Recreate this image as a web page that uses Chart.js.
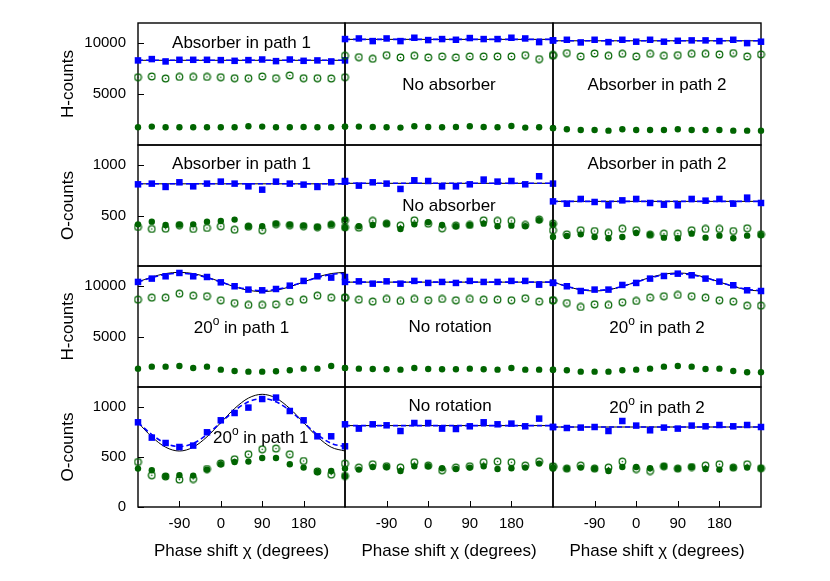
<!DOCTYPE html>
<html>
<head>
<meta charset="utf-8">
<script src="https://cdn.jsdelivr.net/npm/chart.js@4.4.1/dist/chart.umd.min.js"></script>
<style>
  html, body { margin: 0; padding: 0; background: #fff; }
  #wrap { position: relative; width: 830px; height: 581px; }
  #wrap canvas { position: absolute; left: 0; top: 0; }
</style>
</head>
<body>
<div id="wrap"></div>
<script>
// phase shift chi (degrees) of every measured point
const phase = [-180, -150, -120, -90, -60, -30, 0, 30, 60, 90, 120, 150, 180, 210, 240, 270];
const xTicks = [-90, 0, 90, 180];
const hTicks = [5000, 10000];
const oTicks = [500, 1000];
const oTicksBottom = [0, 500, 1000];

// row 1: H-counts with absorbers
const r1c1Sq = [8320, 8450, 8220, 8380, 8380, 8380, 8350, 8280, 8350, 8410, 8250, 8410, 8280, 8320, 8220, 8320];
const r1c1Open = [6670, 6740, 6540, 6700, 6700, 6700, 6670, 6570, 6570, 6740, 6570, 6840, 6570, 6570, 6540, 6670];
const r1c1Dot = [1740, 1810, 1740, 1740, 1740, 1740, 1740, 1740, 1840, 1810, 1740, 1740, 1770, 1740, 1740, 1810];
const r1c1Level = 8330;

const r1c2Sq = [10420, 10480, 10220, 10480, 10220, 10550, 10320, 10420, 10350, 10520, 10420, 10420, 10550, 10480, 10120, 10290];
const r1c2Open = [8780, 8640, 8480, 8840, 8610, 8780, 8610, 8710, 8610, 8710, 8710, 8710, 8710, 8840, 8450, 8780];
const r1c2Dot = [1810, 1810, 1775, 1740, 1710, 1840, 1775, 1740, 1775, 1840, 1775, 1740, 1870, 1710, 1740, 1680];
const r1c2Level = 10390;

const r1c3Sq = [10290, 10350, 10090, 10350, 10120, 10350, 10160, 10350, 10160, 10250, 10290, 10290, 10220, 10350, 10020, 10160];
const r1c3Open = [8870, 9040, 8710, 9000, 8780, 8970, 8710, 8970, 8780, 8840, 8970, 8970, 8910, 9040, 8710, 8910];
const r1c3Dot = [1640, 1545, 1480, 1480, 1410, 1545, 1480, 1480, 1480, 1545, 1480, 1480, 1480, 1410, 1410, 1410];
const r1c3Level = 10250;

// row 2: O-counts with absorbers
const r2c1Sq = [810, 817, 784, 830, 790, 817, 837, 817, 790, 757, 837, 817, 807, 784, 830, 843];
const r2c1Open = [387, 367, 370, 405, 367, 377, 394, 360, 390, 354, 415, 405, 395, 385, 408, 384];
const r2c1Dot = [413, 440, 407, 410, 413, 440, 447, 460, 394, 394, 420, 410, 400, 387, 413, 460];
const r2c1Level = 815;

const r2c2Sq = [837, 797, 830, 817, 764, 850, 843, 790, 790, 810, 857, 837, 843, 810, 890, 817];
const r2c2Open = [453, 380, 447, 420, 400, 453, 420, 374, 400, 407, 453, 447, 447, 407, 460, 420];
const r2c2Dot = [380, 394, 407, 420, 367, 413, 434, 407, 394, 407, 420, 394, 400, 394, 453, 413];
const r2c2Level = 820;

const r2c3Sq = [641, 618, 665, 635, 602, 651, 665, 625, 608, 602, 665, 648, 665, 618, 678, 625];
const r2c3Open = [354, 314, 354, 347, 328, 370, 354, 311, 321, 321, 354, 367, 367, 347, 374, 314];
const r2c3Dot = [288, 298, 314, 288, 275, 288, 328, 311, 281, 275, 321, 281, 301, 275, 301, 308];
const r2c3Level = 641;

// row 3: H-counts with 20 degree rotation
const r3c1Sq = [10420, 10750, 10980, 11310, 10980, 10910, 10380, 9990, 9660, 9590, 9720, 10050, 10520, 10980, 10850, 10910];
const r3c1Theory = [10420, 10900, 11250, 11370, 11250, 10900, 10420, 9940, 9590, 9460, 9590, 9940, 10420, 10900, 11250, 11370];
const r3c1Fit = [10420, 10850, 11170, 11280, 11170, 10850, 10420, 9990, 9670, 9560, 9670, 9990, 10420, 10850, 11170, 11280];
const r3c1Open = [8660, 8860, 8860, 9260, 9060, 9000, 8600, 8330, 8140, 8140, 8200, 8470, 8660, 9060, 8860, 8860];
const r3c1Dot = [1820, 2020, 2020, 2090, 1890, 2020, 1720, 1590, 1520, 1520, 1560, 1660, 1820, 1820, 2090, 1890];

const r3c2Sq = [10420, 10480, 10250, 10480, 10250, 10520, 10320, 10420, 10320, 10520, 10420, 10420, 10520, 10520, 10150, 10350];
const r3c2Open = [8860, 8660, 8470, 8730, 8530, 8730, 8600, 8730, 8600, 8730, 8660, 8660, 8600, 8800, 8470, 8600];
const r3c2Dot = [1890, 1820, 1790, 1760, 1720, 1890, 1790, 1760, 1760, 1820, 1760, 1720, 1890, 1720, 1720, 1720];
const r3c2Level = 10400;

const r3c3Sq = [10320, 9990, 9520, 9660, 9660, 10120, 10320, 10750, 11010, 11240, 11080, 10750, 10450, 10090, 9590, 9520];
const r3c3Theory = [10420, 9970, 9640, 9520, 9640, 9970, 10420, 10860, 11190, 11310, 11190, 10860, 10420, 9970, 9640, 9520];
const r3c3Fit = [10400, 9990, 9680, 9570, 9680, 9990, 10400, 10810, 11120, 11230, 11120, 10810, 10400, 9990, 9680, 9570];
const r3c3Open = [8600, 8330, 7940, 8200, 8140, 8400, 8530, 8860, 9000, 9130, 9000, 8860, 8600, 8470, 8070, 8070];
const r3c3Dot = [1720, 1660, 1520, 1520, 1520, 1660, 1720, 1820, 2020, 2090, 2020, 1790, 1820, 1590, 1460, 1460];

// row 4: O-counts with 20 degree rotation
const r4c1Sq = [847, 694, 640, 600, 614, 747, 867, 940, 994, 1080, 1094, 960, 867, 707, 707, 607];
const r4c1Theory = [844, 702, 598, 560, 598, 702, 844, 985, 1089, 1127, 1089, 985, 844, 702, 598, 560];
const r4c1Fit = [844, 724, 636, 604, 636, 724, 844, 964, 1052, 1084, 1052, 964, 844, 724, 636, 604];
const r4c1Open = [450, 317, 305, 274, 280, 380, 435, 477, 527, 577, 584, 527, 460, 355, 324, 310];
const r4c1Dot = [384, 367, 307, 317, 314, 374, 427, 450, 454, 490, 490, 427, 394, 350, 360, 307];

const r4c2Sq = [827, 784, 827, 817, 760, 840, 840, 784, 780, 807, 847, 827, 834, 807, 884, 800];
const r4c2Open = [434, 394, 427, 407, 394, 447, 414, 367, 394, 407, 447, 454, 447, 414, 454, 407];
const r4c2Dot = [384, 374, 400, 400, 360, 407, 407, 387, 380, 394, 407, 380, 387, 394, 434, 384];
const r4c2Level = 814;

const r4c3Sq = [800, 790, 794, 800, 760, 860, 814, 767, 794, 784, 814, 807, 820, 807, 820, 800];
const r4c3Open = [400, 384, 414, 384, 394, 454, 380, 360, 407, 384, 400, 414, 427, 394, 427, 387];
const r4c3Dot = [394, 384, 394, 384, 360, 400, 400, 387, 407, 384, 400, 380, 374, 394, 394, 387];
const r4c3Level = 800;

const W = 830, H = 581;
const colEdges = [138, 345, 553, 761];
const rowEdges = [23, 145, 266, 387, 507];
const BLUE = "#0000ff";
const GREEN = "#006400";
const FONT = '"Liberation Sans", Arial, Helvetica, sans-serif';

Chart.defaults.font.family = FONT;
Chart.defaults.color = "#000";

// open circle with a small centre dot, like the gnuplot marker
const ringMarker = document.createElement("canvas");
ringMarker.width = 9;
ringMarker.height = 9;
(function () {
    const g = ringMarker.getContext("2d");
    g.strokeStyle = GREEN;
    g.fillStyle = GREEN;
    g.lineWidth = 1.2;
    g.beginPath();
    g.arc(4.5, 4.5, 3.3, 0, Math.PI * 2);
    g.stroke();
    g.beginPath();
    g.arc(4.5, 4.5, 0.8, 0, Math.PI * 2);
    g.fill();
})();

const rowAxes = [
    { title: "H-counts", max: 12000, ticks: hTicks },
    { title: "O-counts", max: 1200, ticks: oTicks },
    { title: "H-counts", max: 12000, ticks: hTicks },
    { title: "O-counts", max: 1200, ticks: oTicksBottom }
];

const path1 = [["Absorber in path 1"]];
const path2 = [["Absorber in path 2"]];
const rot1 = [["20"], ["o", true], [" in path 1"]];
const rot2 = [["20"], ["o", true], [" in path 2"]];

const panels = [
    { r: 0, c: 0, sq: r1c1Sq, open: r1c1Open, dot: r1c1Dot, level: r1c1Level, label: path1, fx: 0.5, fy: 0.207 },
    { r: 0, c: 1, sq: r1c2Sq, open: r1c2Open, dot: r1c2Dot, level: r1c2Level, label: [["No absorber"]], fx: 0.5, fy: 0.549 },
    { r: 0, c: 2, sq: r1c3Sq, open: r1c3Open, dot: r1c3Dot, level: r1c3Level, label: path2, fx: 0.5, fy: 0.549 },
    { r: 1, c: 0, sq: r2c1Sq, open: r2c1Open, dot: r2c1Dot, level: r2c1Level, label: path1, fx: 0.5, fy: 0.198 },
    { r: 1, c: 1, sq: r2c2Sq, open: r2c2Open, dot: r2c2Dot, level: r2c2Level, label: [["No absorber"]], fx: 0.5, fy: 0.543 },
    { r: 1, c: 2, sq: r2c3Sq, open: r2c3Open, dot: r2c3Dot, level: r2c3Level, label: path2, fx: 0.5, fy: 0.198 },
    { r: 2, c: 0, sq: r3c1Sq, open: r3c1Open, dot: r3c1Dot, theory: r3c1Theory, fit: r3c1Fit, label: rot1, fx: 0.5, fy: 0.556 },
    { r: 2, c: 1, sq: r3c2Sq, open: r3c2Open, dot: r3c2Dot, level: r3c2Level, label: [["No rotation"]], fx: 0.505, fy: 0.543 },
    { r: 2, c: 2, sq: r3c3Sq, open: r3c3Open, dot: r3c3Dot, theory: r3c3Theory, fit: r3c3Fit, label: rot2, fx: 0.5, fy: 0.556 },
    { r: 3, c: 0, sq: r4c1Sq, open: r4c1Open, dot: r4c1Dot, theory: r4c1Theory, fit: r4c1Fit, label: rot1, fx: 0.593, fy: 0.464 },
    { r: 3, c: 1, sq: r4c2Sq, open: r4c2Open, dot: r4c2Dot, level: r4c2Level, label: [["No rotation"]], fx: 0.505, fy: 0.198 },
    { r: 3, c: 2, sq: r4c3Sq, open: r4c3Open, dot: r4c3Dot, level: r4c3Level, label: rot2, fx: 0.5, fy: 0.214 }
];

function pts(vals) {
    return phase.map((x, i) => ({ x: x, y: vals[i] }));
}

function flat(level) {
    return [{ x: phase[0], y: level }, { x: phase[phase.length - 1], y: level }];
}

// frame, inward tick marks and the panel caption
const panelDecor = {
    id: "panelDecor",
    beforeDatasetsDraw(chart, args, o) {
        const { ctx, chartArea: a } = chart;
        ctx.save();
        ctx.strokeStyle = "#000";
        ctx.lineWidth = 1;
        if (o.yTicks) {
            const sy = chart.scales.y;
            sy.ticks.forEach(t => {
                const py = Math.round(sy.getPixelForValue(t.value)) + 0.5;
                ctx.beginPath();
                ctx.moveTo(a.left, py);
                ctx.lineTo(a.left + 6, py);
                ctx.stroke();
            });
        }
        if (o.xTicks) {
            const sx = chart.scales.x;
            sx.ticks.forEach(t => {
                const px = Math.round(sx.getPixelForValue(t.value)) + 0.5;
                ctx.beginPath();
                ctx.moveTo(px, a.bottom);
                ctx.lineTo(px, a.bottom - 6);
                ctx.stroke();
            });
        }
        ctx.lineWidth = 1.4;
        ctx.strokeRect(a.left, a.top, a.right - a.left, a.bottom - a.top);
        ctx.restore();
    },
    afterDatasetsDraw(chart, args, o) {
        const { ctx, chartArea: a } = chart;
        const big = "17px " + FONT;
        const small = "12px " + FONT;
        ctx.save();
        ctx.fillStyle = "#000";
        ctx.textAlign = "left";
        ctx.textBaseline = "alphabetic";
        let total = 0;
        const widths = o.label.map(p => {
            ctx.font = p[1] ? small : big;
            const w = ctx.measureText(p[0]).width;
            total += w;
            return w;
        });
        let x = a.left + o.fx * (a.right - a.left) - total / 2;
        const y = a.top + o.fy * (a.bottom - a.top);
        o.label.forEach((p, i) => {
            ctx.font = p[1] ? small : big;
            ctx.fillText(p[0], x, p[1] ? y - 8 : y);
            x += widths[i];
        });
        ctx.restore();
    }
};

const wrap = document.getElementById("wrap");

panels.forEach(p => {
    const canvas = document.createElement("canvas");
    canvas.width = W;
    canvas.height = H;
    wrap.appendChild(canvas);

    const axis = rowAxes[p.r];
    const leftCol = p.c === 0;
    const bottomRow = p.r === 3;

    const datasets = [
        {
            data: pts(p.sq), pointStyle: "rect", pointRadius: 4.6,
            backgroundColor: BLUE, borderColor: BLUE, borderWidth: 0, clip: false
        },
        {
            data: pts(p.dot), pointStyle: "circle", pointRadius: 3.2,
            backgroundColor: GREEN, borderColor: GREEN, borderWidth: 0, clip: false
        },
        {
            data: pts(p.open), pointStyle: ringMarker, pointRadius: 3.5,
            backgroundColor: "rgba(0,0,0,0)", borderColor: GREEN, clip: false
        },
        {
            data: p.fit ? pts(p.fit) : flat(p.level), showLine: true, pointRadius: 0,
            borderColor: BLUE, borderWidth: 1.6, borderDash: [5, 3],
            cubicInterpolationMode: "monotone"
        },
        {
            data: p.theory ? pts(p.theory) : flat(p.level), showLine: true, pointRadius: 0,
            borderColor: "#000", borderWidth: 1,
            cubicInterpolationMode: "monotone"
        }
    ];

    new Chart(canvas, {
        type: "scatter",
        data: { datasets: datasets },
        options: {
            responsive: false,
            animation: false,
            events: [],
            layout: {
                padding: {
                    left: leftCol ? 0 : colEdges[p.c],
                    right: W - colEdges[p.c + 1],
                    top: rowEdges[p.r],
                    bottom: bottomRow ? 0 : H - rowEdges[p.r + 1]
                }
            },
            scales: {
                x: {
                    type: "linear",
                    min: phase[0],
                    max: phase[phase.length - 1],
                    display: bottomRow,
                    afterBuildTicks: s => { s.ticks = xTicks.map(v => ({ value: v })); },
                    afterFit: s => { s.height = bottomRow ? H - rowEdges[4] : 0; },
                    grid: { display: false, drawTicks: false },
                    border: { display: false },
                    ticks: { font: { size: 15 }, padding: 8, maxRotation: 0, callback: v => String(v) },
                    title: {
                        display: true,
                        text: "Phase shift \u03c7 (degrees)",
                        font: { size: 17 },
                        padding: { top: 0, bottom: 19 }
                    }
                },
                y: {
                    type: "linear",
                    min: 0,
                    max: axis.max,
                    display: leftCol,
                    afterBuildTicks: s => { s.ticks = axis.ticks.map(v => ({ value: v })); },
                    afterFit: s => { s.width = leftCol ? colEdges[0] : 0; },
                    grid: { display: false, drawTicks: false },
                    border: { display: false },
                    ticks: { font: { size: 15 }, padding: 12, callback: v => String(v) },
                    title: {
                        display: true,
                        text: axis.title,
                        font: { size: 17 },
                        padding: { top: 58, bottom: 0 }
                    }
                }
            },
            plugins: {
                legend: { display: false },
                tooltip: { enabled: false },
                panelDecor: {
                    label: p.label, fx: p.fx, fy: p.fy,
                    yTicks: leftCol, xTicks: bottomRow
                }
            }
        },
        plugins: [panelDecor]
    });
});
</script>
</body>
</html>
